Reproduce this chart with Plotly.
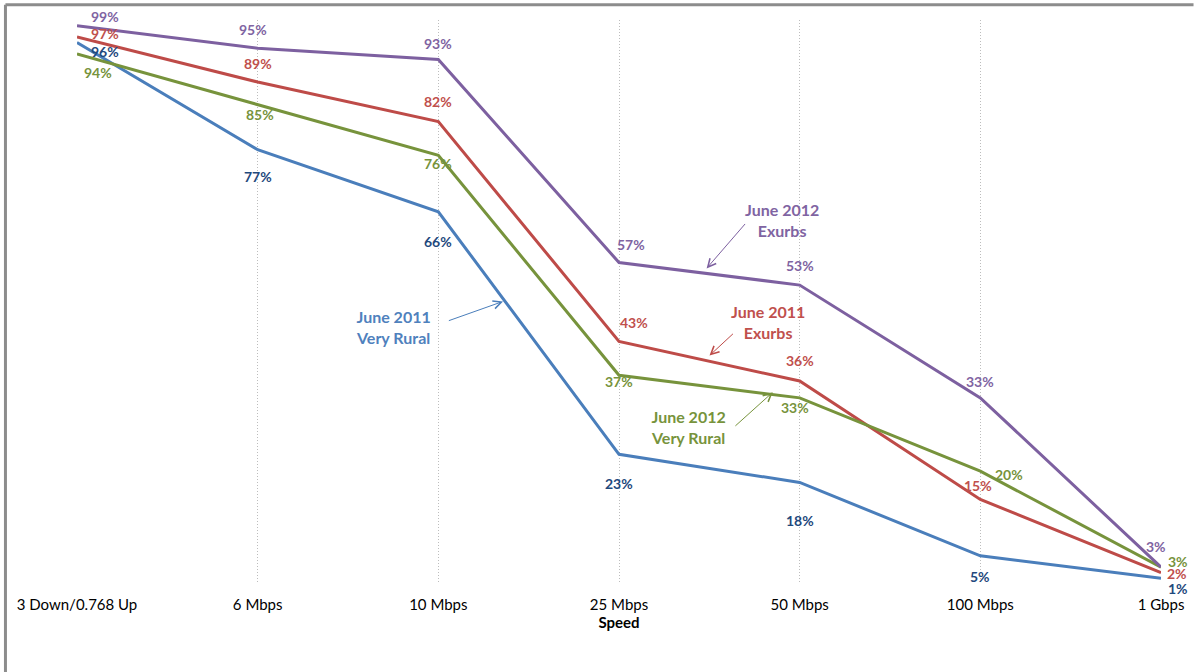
import plotly.graph_objects as go

categories = ["3 Down/0.768 Up", "6 Mbps", "10 Mbps", "25 Mbps", "50 Mbps", "100 Mbps", "1 Gbps"]
rural_2011 = [96, 77, 66, 23, 18, 5, 1]
exurbs_2011 = [97, 89, 82, 43, 36, 15, 2]
rural_2012 = [94, 85, 76, 37, 33, 20, 3]
exurbs_2012 = [99, 95, 93, 57, 53, 33, 3]

FONT = "Lato, Open Sans, sans-serif"

series = [
    # name, values, line color, label color, label offsets (xshift, yshift)
    ("June 2011 Very Rural", rural_2011, "#4A7EBB", "#1F497D",
     [(28, -9), (0, -27), (0, -30), (0, -29), (0, -38), (0, -21), (17, -10)]),
    ("June 2011 Exurbs", exurbs_2011, "#BE4B48", "#C0504D",
     [(28, 3), (0, 19), (0, 20), (15, 19), (0, 20), (-2, 14), (16, -1)]),
    ("June 2012 Very Rural", rural_2012, "#77933C", "#77933C",
     [(21, -19), (2, -10), (0, -8), (0, -6), (-5, -10), (29, -3), (17, 6)]),
    ("June 2012 Exurbs", exurbs_2012, "#7D60A0", "#8064A2",
     [(28, 9), (-5, 19), (0, 16), (12, 18), (0, 20), (0, 16), (-5, 21)]),
]

fig = go.Figure()
annotations = []
for name, vals, lc, tc, offs in series:
    fig.add_trace(go.Scatter(
        x=list(range(len(categories))), y=vals, mode="lines", name=name,
        line=dict(color=lc, width=3), hoverinfo="skip", showlegend=False))
    for i, v in enumerate(vals):
        annotations.append(dict(
            x=i, y=v, xref="x", yref="y", text=f"<b>{v}%</b>", showarrow=False,
            xshift=offs[i][0], yshift=offs[i][1],
            font=dict(family=FONT, size=14, color=tc)))

# callouts: text, text pos (x, y), arrow tail, arrow head, colors
callouts = [
    ("June 2011<br>Very Rural", (1.752, 45.5), (2.05, 46.6), (2.358, 50.1), "#4F81BD", "#4A7EBB"),
    ("June 2012<br>Exurbs", (3.901, 64.5), (3.705, 64.1), (3.485, 55.96), "#8064A2", "#7D60A0"),
    ("June 2011<br>Exurbs", (3.824, 46.4), (3.639, 44.6), (3.501, 40.5), "#C0504D", "#BE4B48"),
    ("June 2012<br>Very Rural", (3.383, 27.8), (3.636, 27.8), (3.851, 34.0), "#77933C", "#77933C"),
]
for text, tpos, tail, head, tc, ac in callouts:
    annotations.append(dict(
        x=tpos[0], y=tpos[1], xref="x", yref="y", text=f"<b>{text}</b>",
        showarrow=False, align="center",
        font=dict(family=FONT, size=16, color=tc)))
    annotations.append(dict(
        x=head[0], y=head[1], ax=tail[0], ay=tail[1], xref="x", yref="y",
        axref="x", ayref="y", text="", showarrow=True, arrowhead=5,
        arrowsize=1.6, arrowwidth=1, arrowcolor=ac, standoff=0, startstandoff=0))

fig.update_layout(
    width=1196, height=672,
    margin=dict(l=77, r=30, t=20, b=88),
    paper_bgcolor="white", plot_bgcolor="white",
    annotations=annotations,
    xaxis=dict(
        tickmode="array", tickvals=list(range(len(categories))), ticktext=categories,
        range=[0, 6], showgrid=True, gridcolor="#BDBDBD", griddash="1px,2px", gridwidth=1,
        zeroline=False, showline=False, ticks="", ticklabelstandoff=10,
        tickfont=dict(family=FONT, size=15, color="black"),
        title=dict(text="<b>Speed</b>", standoff=4,
                   font=dict(family=FONT, size=15, color="black"))),
    yaxis=dict(range=[0, 100], showgrid=False, zeroline=False, showline=False,
               showticklabels=False, ticks=""),
    shapes=[
        dict(type="line", xref="paper", yref="paper", x0=-0.066, x1=1.03,
             y0=1.027, y1=1.027, line=dict(color="#8C8C8C", width=3)),
        dict(type="line", xref="paper", yref="paper", x0=-0.066, x1=-0.066,
             y0=1.027, y1=-0.16, line=dict(color="#8C8C8C", width=3)),
    ],
)

fig.write_html("out.html", config={"displayModeBar": False})

with open("out.html", "r", encoding="utf-8") as f:
    html = f.read()
html = html.replace("<head>", "<head><style>body{margin:0;padding:0}</style>", 1)
with open("out.html", "w", encoding="utf-8") as f:
    f.write(html)
